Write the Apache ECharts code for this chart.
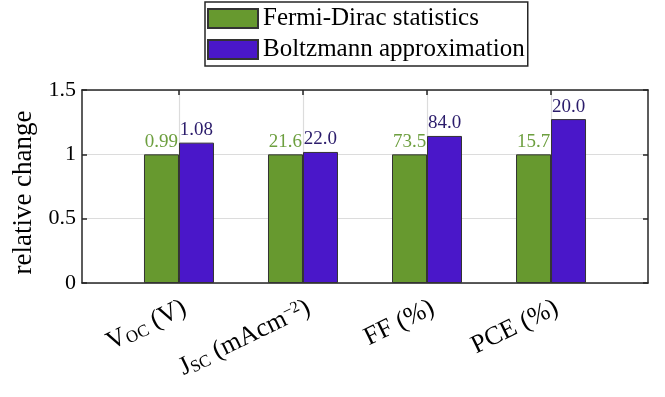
<!DOCTYPE html>
<html>
<head>
<meta charset="utf-8">
<script src="https://cdn.jsdelivr.net/npm/echarts@6/dist/echarts.min.js"></script>
<style>
  html, body { margin: 0; padding: 0; background: #fff; }
  #chart { width: 665px; height: 397px; }
</style>
</head>
<body>
<div id="chart"></div>
<script>
// Photovoltaic figures of merit: Fermi-Dirac vs Boltzmann
const categories = ['VOC (V)', 'JSC (mAcm-2)', 'FF (%)', 'PCE (%)'];
const categoryLabels = [
  '{b|V}{s|OC}{b| (V)}',
  '{b|J}{s|SC}{b| (mAcm}{sup|−2}{b|)}',
  '{b|FF (%)}',
  '{b|PCE (%)}'
];
const seriesNames = ['Fermi-Dirac statistics', 'Boltzmann approximation'];
const fermiDirac = [0.99, 21.6, 73.5, 15.7];
const boltzmann = [1.08, 22.0, 84.0, 20.0];
const yTicks = [0, 0.5, 1, 1.5];

const FONT = '"Liberation Serif", "DejaVu Serif", serif';
const GREEN = '#67992f';
const PURPLE = '#4a17c9';
const FRAME = '#262626';
const GRID = '#dcdcdc';

const xPos = categories.map((_, i) => i + 1);
const fmt = v => (v < 10 ? v.toFixed(2) : v.toFixed(1));

// bars are drawn relative to the Fermi-Dirac value of each quantity
const fdData = fermiDirac.map((v, i) => ({ value: [xPos[i], v / fermiDirac[i]], raw: v }));
const bzData = boltzmann.map((v, i) => ({ value: [xPos[i], v / fermiDirac[i]], raw: v }));

const chart = echarts.init(document.getElementById('chart'), null, { renderer: 'canvas' });

const xCommon = {
  type: 'value',
  min: 0.218,
  max: 4.782,
  axisLine: { show: true, onZero: false, lineStyle: { color: FRAME, width: 1.5 } },
  axisTick: { show: true, inside: true, length: 5, customValues: xPos, lineStyle: { color: FRAME, width: 1.5 } }
};

chart.setOption({
  animation: false,
  textStyle: { fontFamily: FONT },
  legend: {
    orient: 'vertical',
    left: 205,
    top: 2,
    icon: 'rect',
    itemWidth: 50,
    itemHeight: 19,
    itemGap: 6,
    padding: [4, 3, 4, 2],
    borderColor: FRAME,
    borderWidth: 1.5,
    backgroundColor: '#fff',
    textStyle: { fontFamily: FONT, fontSize: 25, lineHeight: 20, color: '#000' },
    data: seriesNames
  },
  grid: { left: 82, top: 90, width: 566, height: 193, containLabel: false, outerBoundsMode: 'none' },
  xAxis: [
    Object.assign({}, xCommon, {
      position: 'bottom',
      axisLabel: {
        show: true,
        customValues: xPos,
        rotate: 26,
        margin: 12,
        align: 'right',
        verticalAlign: 'top',
        formatter: v => categoryLabels[Math.round(v) - 1],
        rich: {
          b: { fontFamily: FONT, fontSize: 26, color: '#000', verticalAlign: 'bottom', lineHeight: 26 },
          s: { fontFamily: FONT, fontSize: 17, color: '#000', verticalAlign: 'bottom', lineHeight: 20 },
          sup: { fontFamily: FONT, fontSize: 16, color: '#000', verticalAlign: 'top', lineHeight: 16 }
        }
      },
      splitLine: { show: true, lineStyle: { color: GRID, width: 1.2 } }
    }),
    Object.assign({}, xCommon, {
      position: 'top',
      axisLabel: { show: false },
      splitLine: { show: false }
    })
  ],
  yAxis: [
    {
      type: 'value',
      min: yTicks[0],
      max: yTicks[yTicks.length - 1],
      interval: 0.5,
      position: 'left',
      name: 'relative change',
      nameLocation: 'middle',
      nameGap: 45,
      nameTextStyle: { fontFamily: FONT, fontSize: 27, color: '#000', padding: [0, 12, 0, 0] },
      axisLine: { show: true, lineStyle: { color: FRAME, width: 1.5 } },
      axisTick: { show: true, inside: true, length: 5, lineStyle: { color: FRAME, width: 1.5 } },
      axisLabel: { fontFamily: FONT, fontSize: 22, color: '#000', margin: 6 },
      splitLine: { show: true, lineStyle: { color: GRID, width: 1.2 } }
    },
    {
      type: 'value',
      min: yTicks[0],
      max: yTicks[yTicks.length - 1],
      interval: 0.5,
      position: 'right',
      axisLine: { show: true, lineStyle: { color: FRAME, width: 1.5 } },
      axisTick: { show: true, inside: true, length: 5, lineStyle: { color: FRAME, width: 1.5 } },
      axisLabel: { show: false },
      splitLine: { show: false }
    }
  ],
  series: [
    {
      name: seriesNames[0],
      type: 'bar',
      xAxisIndex: 0,
      yAxisIndex: 0,
      barWidth: 35,
      barGap: '0%',
      data: fdData,
      itemStyle: { color: GREEN, borderColor: '#333', borderWidth: 1 },
      label: {
        show: true,
        position: 'top',
        distance: 3,
        fontFamily: FONT,
        fontSize: 19,
        color: '#6d9f3f',
        formatter: p => fmt(p.data.raw)
      }
    },
    {
      name: seriesNames[1],
      type: 'bar',
      xAxisIndex: 0,
      yAxisIndex: 0,
      barWidth: 35,
      barGap: '0%',
      data: bzData,
      itemStyle: { color: PURPLE, borderColor: '#333', borderWidth: 1 },
      label: {
        show: true,
        position: 'top',
        distance: 3,
        fontFamily: FONT,
        fontSize: 19,
        color: '#2b1c6b',
        formatter: p => fmt(p.data.raw)
      }
    }
  ]
});
</script>
</body>
</html>
